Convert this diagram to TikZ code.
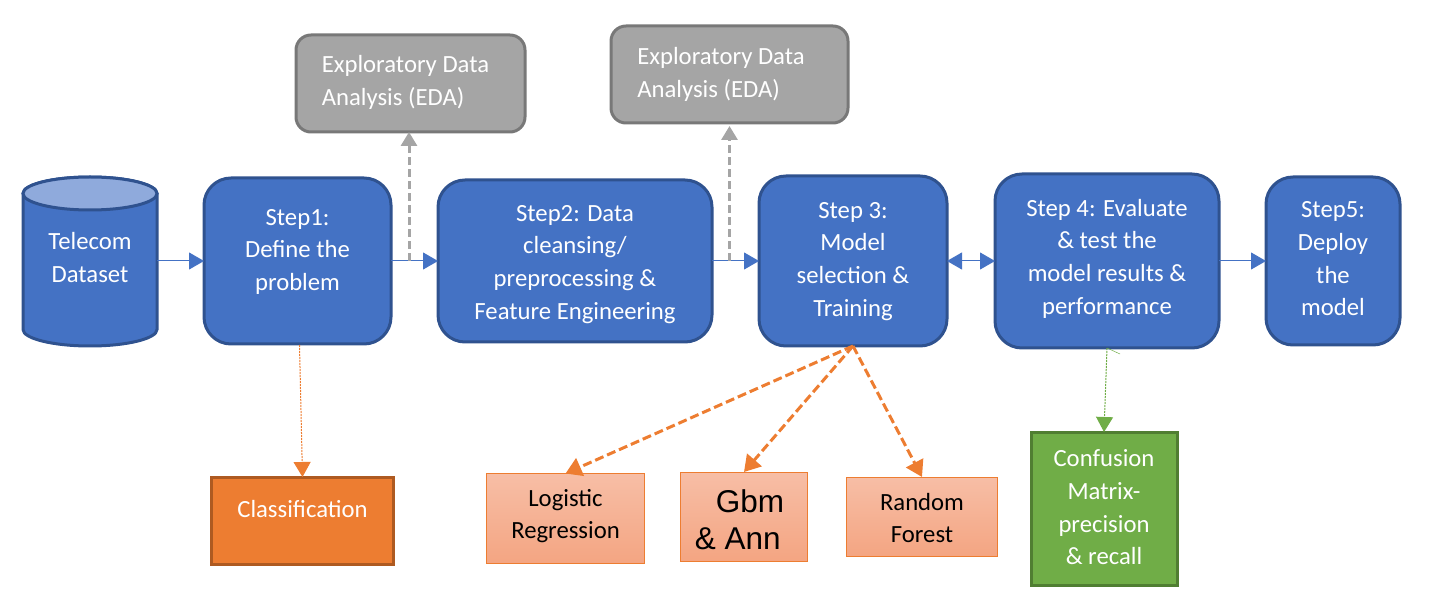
\documentclass[tikz,border=0pt]{standalone}
\usepackage{fontspec}
\setmainfont{Carlito}
\newfontfamily\arialf{Liberation Sans}
\usetikzlibrary{arrows.meta,calc}
\definecolor{bluef}{HTML}{4472C4}
\definecolor{blued}{HTML}{2F528F}
\definecolor{capf}{HTML}{8FAADC}
\definecolor{greyf}{HTML}{A5A5A5}
\definecolor{greyd}{HTML}{787878}
\definecolor{orangef}{HTML}{ED7D31}
\definecolor{oranged}{HTML}{AE5A21}
\definecolor{greenf}{HTML}{70AD47}
\definecolor{greend}{HTML}{507E32}
\definecolor{peachtop}{HTML}{F7BEA6}
\definecolor{peachbot}{HTML}{F4A582}
\newcommand\tb[4]{\makebox[0pt]{\hspace*{#2}\smash{\raisebox{#3}{\begin{tabular}{@{}#1@{}}#4\end{tabular}}}}}
\tikzset{
  x=1pt,y=-1pt,
  every node/.style={inner sep=0pt,outer sep=0pt,font=\fontsize{24.7}{32.6}\selectfont},
  stepbox/.style={draw=blued,line width=3pt,fill=bluef,rounded corners=27pt,text=white},
  edabox/.style={draw=greyd,line width=3pt,fill=greyf,rounded corners=15pt,text=white},
  peach/.style={draw=orangef,line width=0.8pt,top color=peachtop,bottom color=peachbot,text=black},
  flow/.style={draw=bluef,line width=1pt,-{Triangle[length=15pt,width=17pt]}},
  flowb/.style={draw=bluef,line width=1pt,{Triangle[length=15pt,width=17pt]}-{Triangle[length=15pt,width=17pt]}},
  greydash/.style={draw=greyf,line width=3pt,dash pattern=on 8pt off 4pt,-{Triangle[length=14pt,width=16pt]}},
  orangedash/.style={draw=orangef,line width=3pt,dash pattern=on 9pt off 4pt,-{Triangle[length=16pt,width=19pt]}},
  orangethin/.style={draw=orangef,line width=1pt,dash pattern=on 2pt off 1pt,-{Triangle[length=15pt,width=17pt]}},
  greenthin/.style={draw=greenf,line width=1pt,dash pattern=on 2pt off 1pt,-{Triangle[length=15pt,width=17pt]}},
}
\begin{document}
\begin{tikzpicture}
\useasboundingbox (0,0) rectangle (1437,609);
% cylinder
\draw[draw=blued,line width=3pt,fill=bluef] (23,193.5) -- (23,329.5) arc[start angle=180,end angle=360,x radius=67,y radius=-16.5] -- (157,193.5) arc[start angle=0,end angle=180,x radius=67,y radius=-16.5] -- cycle;
\draw[draw=blued,line width=3pt,fill=capf] (90,193.5) ellipse[x radius=67,y radius=16.5];
\node[text=white,minimum width=134pt,minimum height=169pt] (cyl) at (90,261.5) {\tb{c}{0pt}{-4pt}{Telecom\\Dataset}};
% steps
\node[stepbox,minimum width=187pt,minimum height=166pt] (s1) at (297.5,261) {\tb{c}{0pt}{3.5pt}{Step1:\\Define the\\problem}};
\node[stepbox,minimum width=274pt,minimum height=162pt] (s2) at (575,261) {\tb{c}{0pt}{-9pt}{Step2: Data\\cleansing/\\preprocessing \&\\Feature Engineering}};
\node[stepbox,minimum width=188pt,minimum height=170pt] (s3) at (853,261) {\tb{c}{0pt}{-6pt}{Step 3:\\Model\\selection \&\\Training}};
\node[stepbox,minimum width=224pt,minimum height=174pt] (s4) at (1107,261) {\tb{c}{0pt}{-4pt}{Step 4: Evaluate\\\& test the\\model results \&\\performance}};
\node[stepbox,minimum width=134pt,minimum height=168pt] (s5) at (1333,261) {\tb{c}{0pt}{-5.5pt}{Step5:\\Deploy\\the\\model}};
% EDA
\node[edabox,minimum width=229pt,minimum height=97pt] (e1) at (410.5,83.5) {\tb{l}{-10pt}{-5.5pt}{Exploratory Data\\Analysis (EDA)}};
\node[edabox,minimum width=237pt,minimum height=97pt] (e2) at (729.5,74.5) {\tb{l}{-17pt}{-6pt}{Exploratory Data\\Analysis (EDA)}};
% bottom boxes
\node[draw=oranged,line width=3pt,fill=orangef,text=white,minimum width=182pt,minimum height=87pt] (cl) at (302.5,520.5) {\tb{c}{0pt}{3pt}{Classification}};
\node[peach,minimum width=158pt,minimum height=90pt] (lr) at (565.5,518.5) {\tb{c}{0pt}{-3.5pt}{Logistic\\Regression}};
\node[peach,minimum width=127pt,minimum height=89pt] (gb) at (744,516.5) {\arialf\fontsize{31.5}{37}\selectfont\tb{l}{-9pt}{-13pt}{\hspace*{21pt}Gbm\\\& Ann}};
\node[peach,minimum width=151pt,minimum height=79pt] (rf) at (922,516.5) {\tb{c}{0pt}{-9.5pt}{Random\\Forest}};
\node[draw=greend,line width=3pt,fill=greenf,text=white,minimum width=146pt,minimum height=153pt] (cm) at (1104,508.5) {\tb{c}{0pt}{-7pt}{Confusion\\Matrix-\\precision\\\& recall}};
% flow
\draw[flow] (cyl.east |- s1.west) -- (s1.west);
\draw[flow] (s1.east) -- (s2.west);
\draw[flow] (s2.east) -- (s3.west);
\draw[flowb] (s3.east) -- (s4.west);
\draw[flow] (s4.east) -- (s5.west);
% EDA arrows
\draw[greydash] (e1.south |- s1.east) ++(-1.5,0) coordinate (j1) -- (j1 |- e1.south);
\draw[greydash,shorten >=3pt] (e2.south |- s2.east) coordinate (j2) -- (e2.south);
% lower arrows
\draw[orangethin] ($(s1.south)+(2,1)$) -- (cl.north);
\draw[orangedash] (s3.south) -- (lr.north);
\draw[orangedash] (s3.south) -- (gb.north);
\draw[orangedash] (s3.south) -- (rf.north);
\draw[greenthin] (s4.south) -- (cm.north);
\draw[draw=greenf,line width=0.5pt] (s4.south) -- ++(13,6);
\end{tikzpicture}
\end{document}
